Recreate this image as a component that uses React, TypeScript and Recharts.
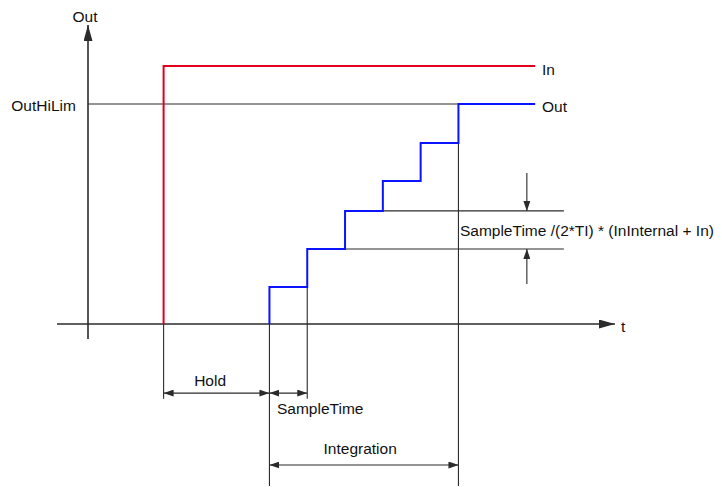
import React from 'react'
import {
  LineChart,
  Line,
  XAxis,
  YAxis,
  ReferenceLine,
  ReferenceDot,
} from 'recharts'

// time in sample periods, value in % of OutHiLim
const inTimes = [2, 11.83]
const inValues = [0, 117.3]
const outTimes = [4.8, 5.8, 6.8, 7.8, 8.8, 9.8, 11.83]
const outValues = [0, 16.8, 34.1, 51.4, 65, 82.3, 100]
const outHiLim = 100

const axisLabels = ['Out', 't']
const seriesLabels = ['In', 'Out']
const limitLabel = 'OutHiLim'
const dimLabels = ['Hold', 'SampleTime', 'Integration']
const stepLabel = 'SampleTime /(2*TI) * (InInternal + In)'

const inData = inTimes.map((t, i) => ({ t, v: inValues[i] }))
const outData = outTimes.map((t, i) => ({ t, v: outValues[i] }))

// plot frame (px per unit and origin)
const W = 722
const H = 487
const PX_T = 37.8
const PX_V = 2.2
const X0 = 88
const Y0 = 324
const X_MIN = -X0 / PX_T
const X_MAX = (W - X0) / PX_T
const Y_MAX = Y0 / PX_V
const Y_MIN = -(H - Y0) / PX_V

const FONT = '"Liberation Sans", Arial, sans-serif'
const INK = '#2b2b2b'

type Seg = {
  a: [number, number]
  b: [number, number]
  start?: string
  end?: string
  w?: number
}

const dimLow = -34
const dimDeep = -73.6
const holdRow = -31.4
const intRow = -64.1
const rightEdge = 12.59
const arrowCol = 11.61

const segments: Seg[] = [
  // axes
  { a: [-0.82, 0], b: [13.94, 0], end: 'axHead', w: 1.6 },
  { a: [0, -6.8], b: [0, 135.9], end: 'axHead', w: 1.6 },
  // limit
  { a: [0, outHiLim], b: [outTimes[5], outHiLim] },
  // extension lines
  { a: [inTimes[0], 0], b: [inTimes[0], dimLow] },
  { a: [outTimes[0], 0], b: [outTimes[0], dimDeep] },
  { a: [outTimes[1], outValues[1]], b: [outTimes[1], dimLow] },
  { a: [outTimes[5], outValues[5]], b: [outTimes[5], dimDeep] },
  { a: [outTimes[3], outValues[3]], b: [rightEdge, outValues[3]] },
  { a: [outTimes[2], outValues[2]], b: [rightEdge, outValues[2]] },
  // step size arrows
  { a: [arrowCol, 68.6], b: [arrowCol, outValues[3]], end: 'dimHead' },
  { a: [arrowCol, 18.2], b: [arrowCol, outValues[2]], end: 'dimHead' },
  // dimensions
  { a: [inTimes[0], holdRow], b: [outTimes[0], holdRow], start: 'dimHead', end: 'dimHead' },
  { a: [outTimes[0], holdRow], b: [outTimes[1], holdRow], start: 'dimHead', end: 'dimHead' },
  { a: [outTimes[0], intRow], b: [outTimes[5], intRow], start: 'dimHead', end: 'dimHead' },
]

type Txt = { text: string; t: number; v: number; anchor: 'start' | 'middle' | 'end' }

const texts: Txt[] = [
  { text: axisLabels[0], t: -0.08, v: 140, anchor: 'middle' },
  { text: axisLabels[1], t: 14.1, v: -1, anchor: 'start' },
  { text: limitLabel, t: -0.32, v: 99.5, anchor: 'end' },
  { text: seriesLabels[0], t: 12.01, v: 115.5, anchor: 'start' },
  { text: seriesLabels[1], t: 12.01, v: 98.8, anchor: 'start' },
  { text: stepLabel, t: 9.84, v: 42.7, anchor: 'start' },
  { text: dimLabels[0], t: 3.23, v: -25.5, anchor: 'middle' },
  { text: dimLabels[1], t: 5.0, v: -38.2, anchor: 'start' },
  { text: dimLabels[2], t: 7.2, v: -56.4, anchor: 'middle' },
]

const segShape = (s: Seg) => (p: any) => (
  <line
    x1={p.x1}
    y1={p.y1}
    x2={p.x2}
    y2={p.y2}
    stroke={INK}
    strokeWidth={s.w ?? 1.1}
    markerStart={s.start ? `url(#${s.start})` : undefined}
    markerEnd={s.end ? `url(#${s.end})` : undefined}
  />
)

const textShape = (x: Txt) => (p: any) => (
  <text
    x={p.cx}
    y={p.cy}
    textAnchor={x.anchor}
    dominantBaseline="central"
    fontFamily={FONT}
    fontSize={15.5}
    fill="#111"
  >
    {x.text}
  </text>
)

export default function App() {
  return (
    <div style={{ position: 'absolute', left: 0, top: 0, width: W, height: H, background: '#fff' }}>
      <svg width={0} height={0} style={{ position: 'absolute' }}>
        <defs>
          <marker
            id="axHead"
            markerUnits="userSpaceOnUse"
            markerWidth={16}
            markerHeight={9}
            refX={16}
            refY={4.5}
            orient="auto"
          >
            <path d="M0,0 L16,4.5 L0,9 Z" fill={INK} />
          </marker>
          <marker
            id="dimHead"
            markerUnits="userSpaceOnUse"
            markerWidth={10}
            markerHeight={7}
            refX={10}
            refY={3.5}
            orient="auto-start-reverse"
          >
            <path d="M0,0 L10,3.5 L0,7 Z" fill={INK} />
          </marker>
        </defs>
      </svg>
      <LineChart width={W} height={H} margin={{ top: 0, right: 0, bottom: 0, left: 0 }}>
        <XAxis
          type="number"
          dataKey="t"
          domain={[X_MIN, X_MAX]}
          allowDataOverflow
          hide
        />
        <YAxis type="number" domain={[Y_MIN, Y_MAX]} allowDataOverflow hide />
        {segments.map((s, i) => (
          <ReferenceLine
            key={`s${i}`}
            segment={[
              { x: s.a[0], y: s.a[1] },
              { x: s.b[0], y: s.b[1] },
            ]}
            ifOverflow="visible"
            shape={segShape(s)}
          />
        ))}
        <Line
          data={inData}
          dataKey="v"
          type="stepBefore"
          stroke="#e2001a"
          strokeWidth={2}
          dot={false}
          activeDot={false}
          isAnimationActive={false}
        />
        <Line
          data={outData}
          dataKey="v"
          type="stepBefore"
          stroke="#0a14ff"
          strokeWidth={2}
          dot={false}
          activeDot={false}
          isAnimationActive={false}
        />
        {texts.map((x, i) => (
          <ReferenceDot
            key={`t${i}`}
            x={x.t}
            y={x.v}
            r={0}
            ifOverflow="visible"
            shape={textShape(x)}
          />
        ))}
      </LineChart>
    </div>
  )
}
